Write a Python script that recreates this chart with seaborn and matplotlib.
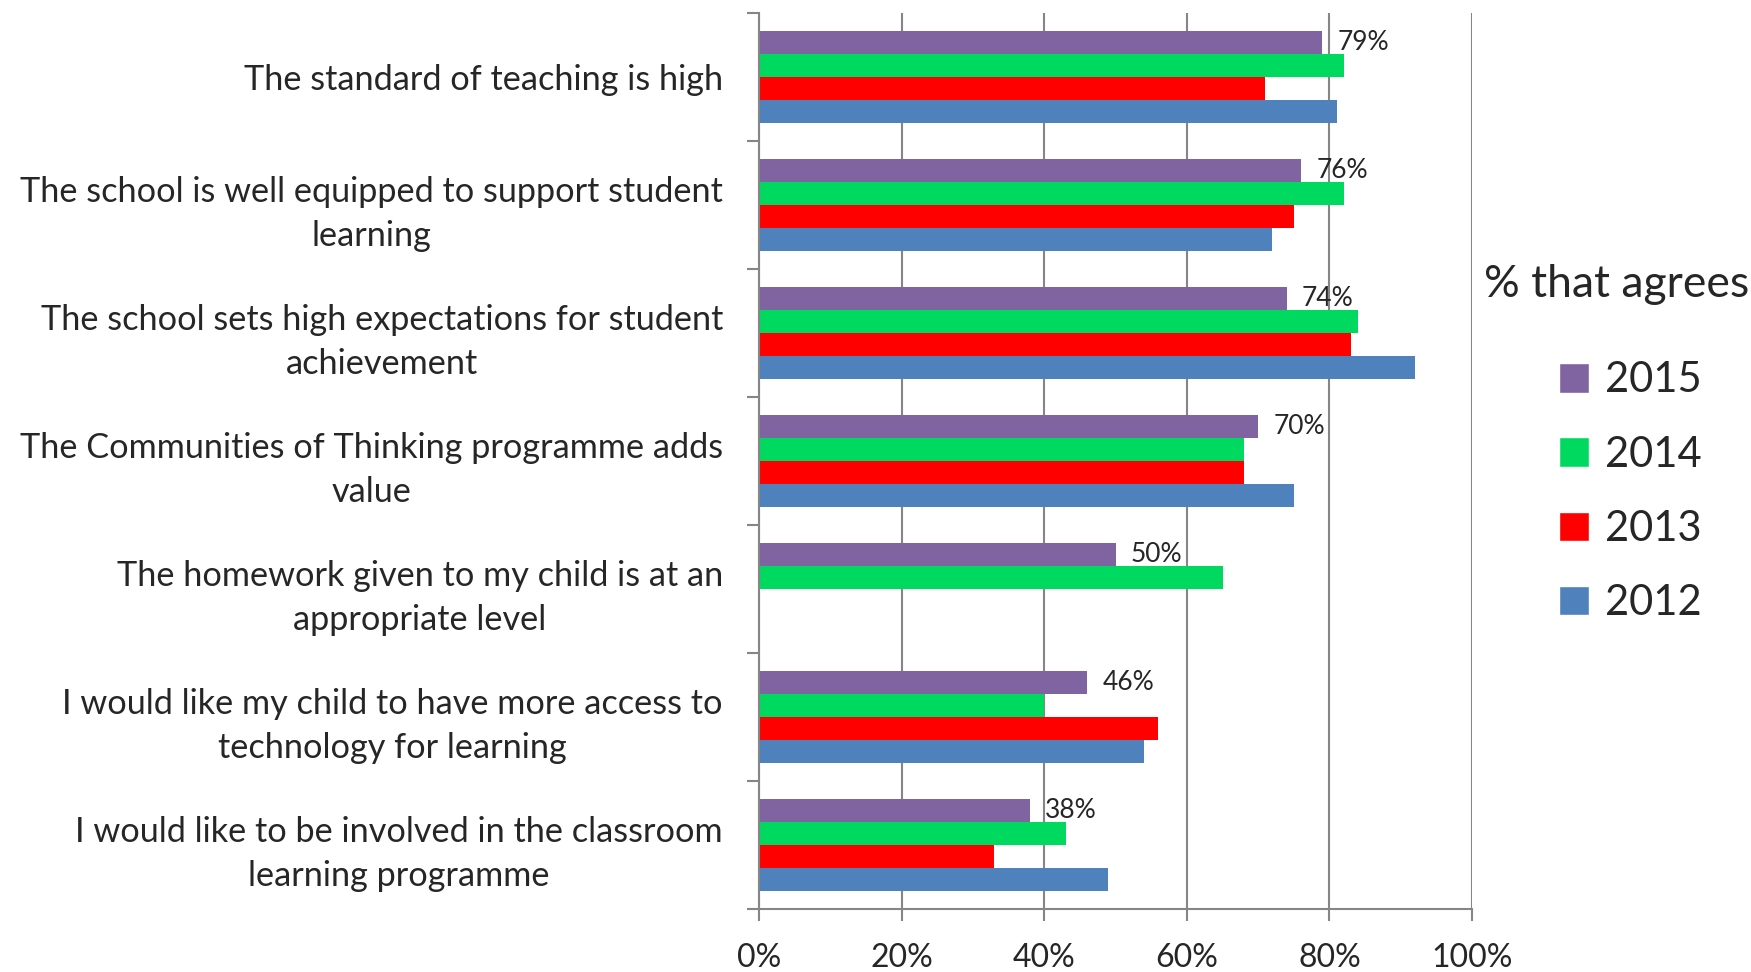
import numpy as np
import pandas as pd
import matplotlib
matplotlib.use('Agg')
import matplotlib.pyplot as plt
import seaborn as sns
from matplotlib.patches import Patch

# Survey statements (top to bottom) and % that agree per year

statements = [
    'The standard of teaching is high',
    'The school is well equipped to support student\nlearning',
    'The school sets high expectations for student\nachievement',
    'The Communities of Thinking programme adds\nvalue',
    'The homework given to my child is at an\nappropriate level',
    'I would like my child to have more access to\ntechnology for learning',
    'I would like to be involved in the classroom\nlearning programme',
]
years = ['2015', '2014', '2013', '2012']
agree_2015 = [79, 76, 74, 70, 50, 46, 38]
agree_2014 = [82, 82, 84, 68, 65, 40, 43]
agree_2013 = [71, 75, 83, 68, np.nan, 56, 33]
agree_2012 = [81, 72, 92, 75, np.nan, 54, 49]
colours = ['#8064A2', '#00D960', '#FF0000', '#4F81BD']
x_ticks = [0, 20, 40, 60, 80, 100]

df = pd.DataFrame({
    'Statement': statements * 4,
    'Year': np.repeat(years, len(statements)),
    'Agree': agree_2015 + agree_2014 + agree_2013 + agree_2012,
})
df = df.dropna()

sns.set_style('white')
plt.rcParams['font.family'] = ['Lato', 'DejaVu Sans']
grey = '#868686'

fig, ax = plt.subplots(figsize=(17.51, 9.72), dpi=100)
fig.subplots_adjust(left=0.4335, right=0.8407, bottom=0.0648, top=0.9866)

sns.barplot(data=df, x='Agree', y='Statement', hue='Year', order=statements,
            hue_order=years, palette=colours, saturation=1, width=0.72,
            orient='h', errorbar=None, legend=False, linewidth=0, ax=ax)

# label only the 2015 bars
ax.bar_label(ax.containers[0], fmt='%.0f%%', padding=11, fontsize=19)

ax.set_xlim(0, 100)
ax.set_ylim(len(statements) - 0.5, -0.5)
ax.set_xticks(x_ticks)
ax.set_xticklabels([f'{v}%' for v in x_ticks], fontsize=23)
ax.set_yticks(range(len(statements)))
ax.set_yticklabels(statements, fontsize=24.7, multialignment='center', linespacing=1.45)
ax.set_yticks(np.arange(-0.5, len(statements), 1), minor=True)
ax.set_xlabel('')
ax.set_ylabel('')

ax.tick_params(axis='x', which='major', length=8.6, width=1.5, color=grey, pad=16, direction='out', bottom=True)
ax.tick_params(axis='y', which='major', length=0, pad=26)
ax.tick_params(axis='y', which='minor', length=8.6, width=1.5, color=grey, direction='out', left=True)

ax.xaxis.grid(True, color=grey, linewidth=1.5)
ax.set_axisbelow(True)
for side in ['top', 'right']:
    ax.spines[side].set_visible(False)
for side in ['left', 'bottom']:
    ax.spines[side].set_color(grey)
    ax.spines[side].set_linewidth(1.5)

# legend title drawn separately so the gap to the entries matches
fig.text(0.9235, 0.707, '% that agrees', fontsize=32, ha='center', va='center')
handles = [Patch(facecolor=c, label=y) for c, y in zip(colours, years)]
fig.legend(handles=handles, loc='center', bbox_to_anchor=(0.931, 0.494),
           frameon=False, fontsize=30, handlelength=0.72, handleheight=0.72,
           handletextpad=0.4, labelspacing=0.87)

plt.savefig('out.png', dpi=100)
